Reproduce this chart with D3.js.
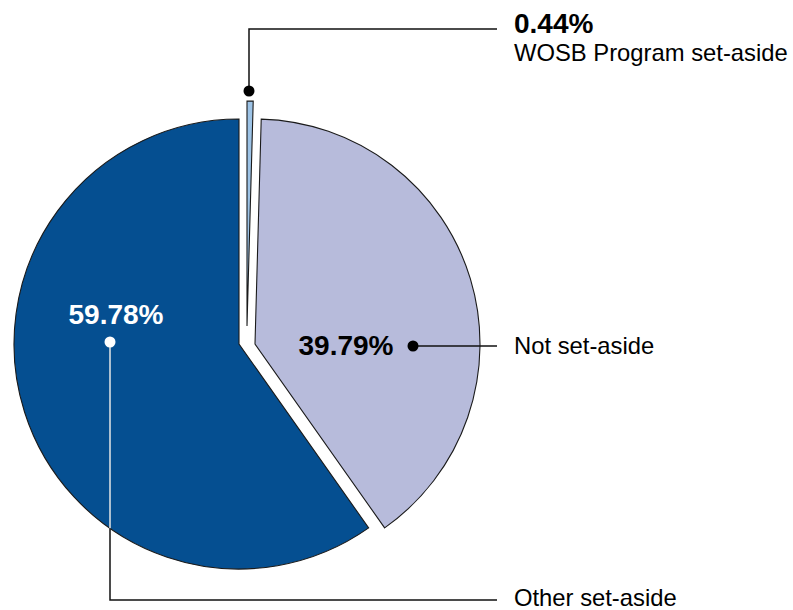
<!DOCTYPE html>
<html><head><meta charset="utf-8">
<script src="https://cdn.jsdelivr.net/npm/d3@7"></script>
<style>
html,body{margin:0;padding:0;background:#fff;}
svg{display:block;font-family:"Liberation Sans",Arial,sans-serif;}
</style></head>
<body><svg id="c" width="793" height="610"></svg>
<script>
const categories = ["WOSB Program set-aside", "Not set-aside", "Other set-aside"];
const values = [0.44, 39.79, 59.78];
const valueLabels = ["0.44%", "39.79%", "59.78%"];
const colors = ["#9dc3e6", "#b7bbdb", "#054f91"];

const svg = d3.select("#c");
const cx = 239, cy = 344, R = 225;
const offsets = [[8, -18], [16, 0], [0, 0]];

const pie = d3.pie().sort(null).value(d => d)(values);
const arc = d3.arc().innerRadius(0).outerRadius(R);

const g = svg.append("g").attr("transform", `translate(${cx},${cy})`);
g.selectAll("path").data(pie).join("path")
  .attr("transform", (d, i) => `translate(${offsets[i][0]},${offsets[i][1]})`)
  .attr("d", arc)
  .attr("fill", (d, i) => colors[i])
  .attr("stroke", "#1a1a1a")
  .attr("stroke-width", 1.1)
  .attr("stroke-linejoin", "miter");

const lineEndX = 497, textX = 514, catSize = 23.8;

// WOSB annotation
const wosbDot = [249, 91];
svg.append("polyline")
  .attr("points", `${wosbDot[0]},${wosbDot[1]} ${wosbDot[0]},29 ${lineEndX},29`)
  .attr("fill", "none").attr("stroke", "#111").attr("stroke-width", 1.5);
svg.append("circle").attr("cx", wosbDot[0]).attr("cy", wosbDot[1]).attr("r", 5.5).attr("fill", "#000");
svg.append("text").attr("x", textX).attr("y", 33)
  .attr("font-size", 28).attr("font-weight", "bold").attr("fill", "#000").text(valueLabels[0]);
svg.append("text").attr("x", textX).attr("y", 61)
  .attr("font-size", catSize).attr("fill", "#000").text(categories[0]);

// Not set-aside annotation
const nsDot = [413, 346];
svg.append("line").attr("x1", nsDot[0]).attr("y1", nsDot[1]).attr("x2", lineEndX).attr("y2", nsDot[1])
  .attr("stroke", "#111").attr("stroke-width", 1.5);
svg.append("circle").attr("cx", nsDot[0]).attr("cy", nsDot[1]).attr("r", 5.5).attr("fill", "#000");
svg.append("text").attr("x", 346).attr("y", 355).attr("text-anchor", "middle")
  .attr("font-size", 28).attr("font-weight", "bold").attr("fill", "#000").text(valueLabels[1]);
svg.append("text").attr("x", textX).attr("y", 354)
  .attr("font-size", catSize).attr("fill", "#000").text(categories[1]);

// Other set-aside annotation
const osDot = [110, 342];
const lineY = 600;
const edgeY = cy + Math.sqrt(R * R - (cx - osDot[0]) ** 2);
svg.append("polyline")
  .attr("points", `${osDot[0]},${edgeY} ${osDot[0]},${lineY} ${lineEndX},${lineY}`)
  .attr("fill", "none").attr("stroke", "#111").attr("stroke-width", 1.5);
svg.append("line").attr("x1", osDot[0]).attr("y1", osDot[1]).attr("x2", osDot[0]).attr("y2", edgeY)
  .attr("stroke", "#e6e6e6").attr("stroke-width", 1.5);
svg.append("circle").attr("cx", osDot[0]).attr("cy", osDot[1]).attr("r", 5.5).attr("fill", "#fff");
svg.append("text").attr("x", 116).attr("y", 324).attr("text-anchor", "middle")
  .attr("font-size", 28).attr("font-weight", "bold").attr("fill", "#fff").text(valueLabels[2]);
svg.append("text").attr("x", textX).attr("y", 606)
  .attr("font-size", catSize).attr("fill", "#000").text(categories[2]);
</script></body></html>
